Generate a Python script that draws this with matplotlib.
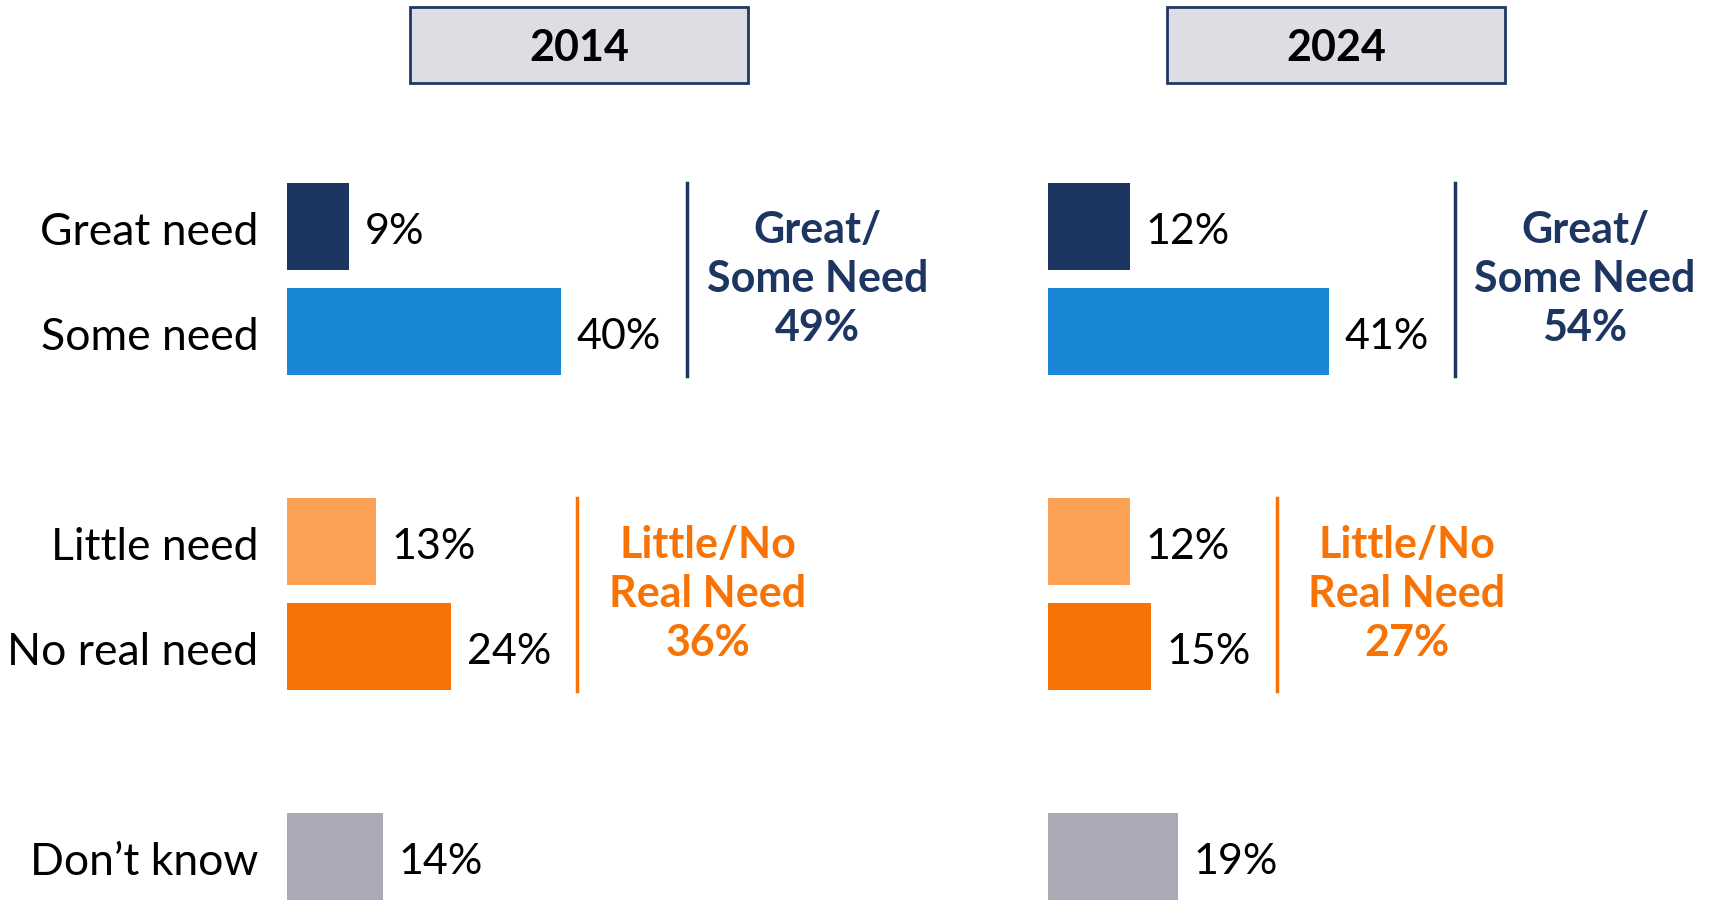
import matplotlib.pyplot as plt
from matplotlib.patches import Rectangle

# data
categories = ['Great need', 'Some need', 'Little need', 'No real need', 'Don’t know']
years = ['2014', '2024']
values_2014 = [9, 40, 13, 24, 14]
values_2024 = [12, 41, 12, 15, 19]
need_2014 = [49, 36]
need_2024 = [54, 27]
group_titles = ['Great/\nSome Need', 'Little/No\nReal Need']

colors = ['#1D3661', '#1987D6', '#FCA156', '#F87305', '#A9AAB6']
group_colors = ['#1D3661', '#F87305']
positions = [0, 1, 3, 4, 6]
groups = [(0, 1), (2, 3)]

plt.rcParams['font.family'] = ['Lato', 'DejaVu Sans']

W, H = 1714, 901
fig = plt.figure(figsize=(W / 100, H / 100), dpi=100)

px_per_pct = 6.85
unit_px = 105.0
top_px = 170
center0_px = 226.5
ax_w_px = 60 * px_per_pct


def add_panel(left_px, vals, totals, year, box_left, show_labels):
    ax = fig.add_axes([left_px / W, 0, ax_w_px / W, (H - top_px) / H])
    ax.set_xlim(0, 60)
    ax.set_ylim((H - center0_px) / unit_px, (top_px - center0_px) / unit_px)
    ax.axis('off')

    ax.barh(positions, vals, height=0.82, color=colors)
    # text sits a touch below bar centre, like the original
    for p, v in zip(positions, vals):
        ax.text(v + 2.3, p + 0.05, f'{v}%', ha='left', va='center', fontsize=31, color='black')

    if show_labels:
        for p, c in zip(positions, categories):
            ax.text(-4.2, p + 0.06, c, ha='right', va='center', fontsize=32, color='black')

    # brackets with combined totals
    for (i, j), t, title, col in zip(groups, totals, group_titles, group_colors):
        lx = max(vals[i], vals[j]) + 18.4
        y0, y1 = positions[i] - 0.41, positions[j] + 0.42
        ax.plot([lx, lx], [y0, y1], color=col, lw=2.5, clip_on=False)
        ax.text(lx + 19, (positions[i] + positions[j]) / 2, f'{title}\n{t}%',
                ha='center', va='center', fontsize=31, fontweight='bold',
                color=col, linespacing=1.28, clip_on=False)

    # year header box
    bw, bh = 338, 76
    fig.add_artist(Rectangle((box_left / W, 1 - (7 + bh) / H), bw / W, bh / H,
                             transform=fig.transFigure, facecolor='#DEDDE3',
                             edgecolor='#1F3864', lw=2))
    fig.text((box_left + bw / 2) / W, 1 - 48 / H, year, ha='center', va='center',
             fontsize=31, fontweight='bold', color='black')


add_panel(287, values_2014, need_2014, years[0], 410, True)
add_panel(1048, values_2024, need_2024, years[1], 1167, False)

plt.savefig('out.png', dpi=100)
